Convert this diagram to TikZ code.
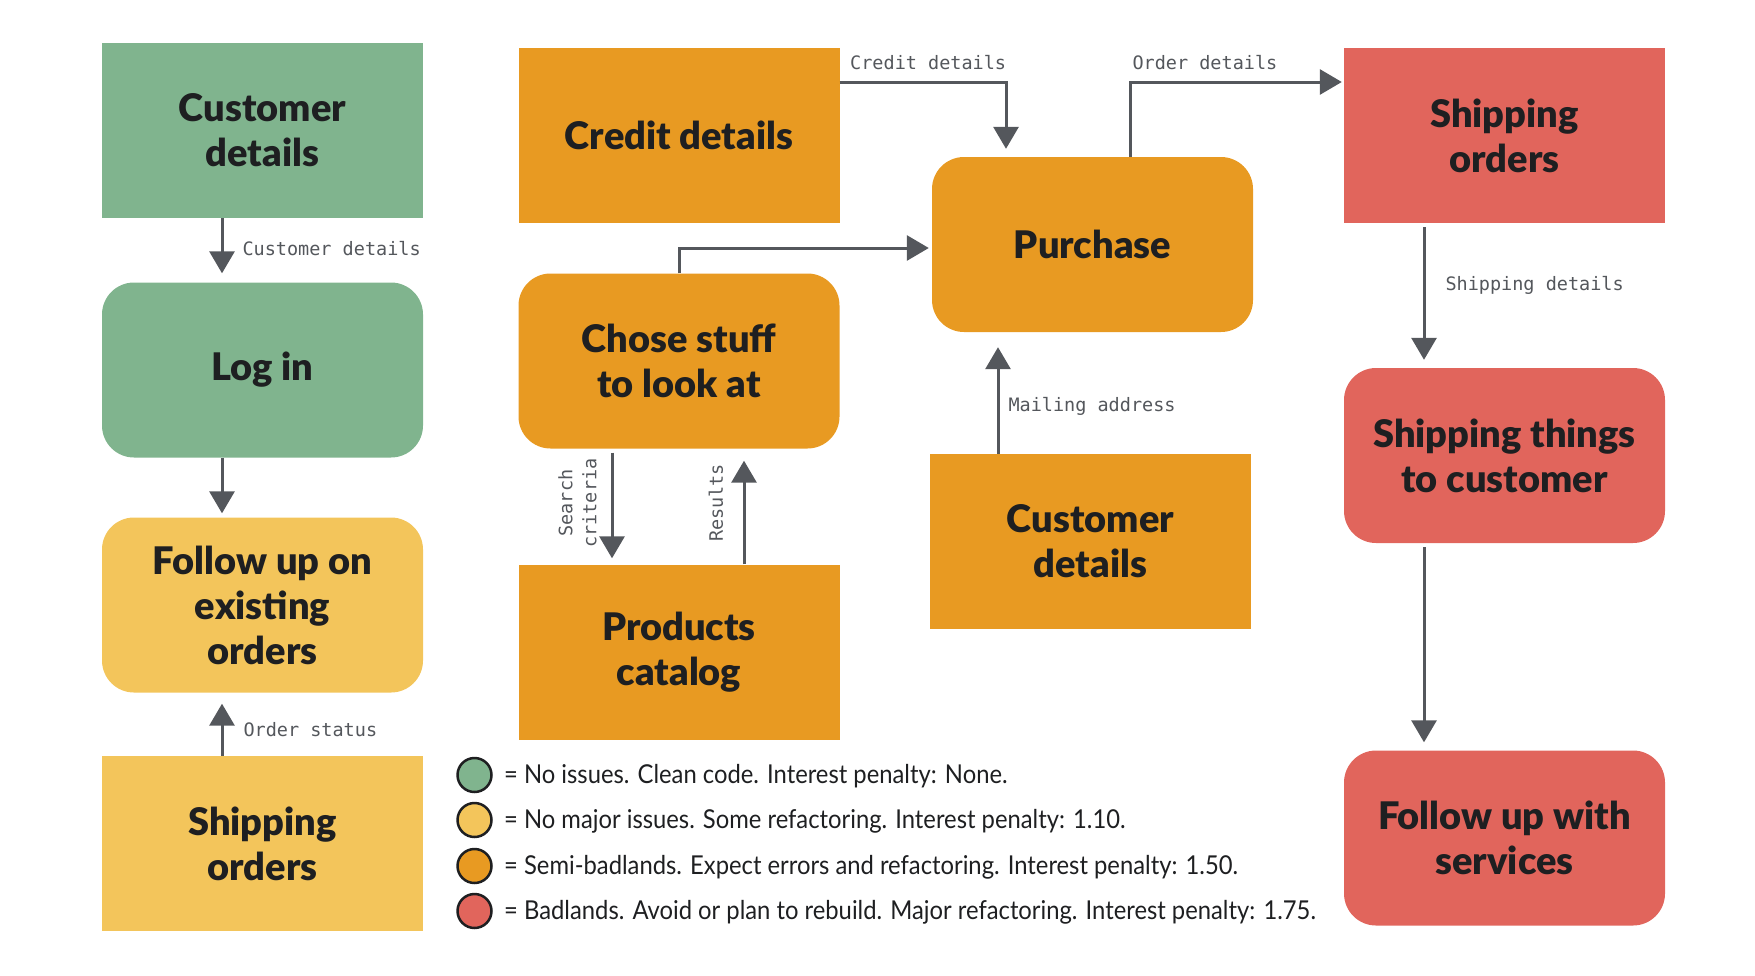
\documentclass[tikz,border=0pt]{standalone}
\usepackage{fontspec}
\setmainfont{Lato}[BoldFont={Lato Black}]
\setmonofont{DejaVu Sans Mono}
\newfontfamily\legendfont[FakeStretch=0.915]{Lato}
\usepackage{xcolor}
\usepackage{tikz}
\usetikzlibrary{arrows.meta}
\definecolor{stagegreen}{HTML}{80B48E}
\definecolor{stageyellow}{HTML}{F3C55B}
\definecolor{stageorange}{HTML}{E89A22}
\definecolor{stagered}{HTML}{E1655C}
\definecolor{flowgray}{HTML}{54575C}
\definecolor{boxink}{HTML}{1E1F21}

\begin{document}
\begin{tikzpicture}[x=1pt, y=-1pt,
    box/.style={minimum width=321pt, minimum height=175pt, inner sep=0pt,
      align=center, text=boxink, font=\fontsize{38}{45}\selectfont\bfseries},
    roundbox/.style={box, rounded corners=32pt},
    flow/.style={draw=flowgray, line width=3pt, -{Triangle[width=25pt,length=22pt]}},
    lbl/.style={font=\fontsize{18.5}{24}\selectfont\ttfamily, text=flowgray, inner sep=0pt},
    keydot/.style={circle, draw=boxink, line width=2.5pt, minimum size=34pt, inner sep=0pt},
    keytext/.style={font=\legendfont\fontsize{26}{30}\selectfont, text=boxink,
      anchor=west, inner sep=0pt}]
  \useasboundingbox (0,0) rectangle (1755,975);

  % left column
  \node[box, fill=stagegreen] (custg) at (262.5,130.5) {Customer\\details};
  \node[roundbox, fill=stagegreen] (login) at (262.5,370) {Log in};
  \node[roundbox, fill=stageyellow] (follow) at (262.5,605) {Follow up on\\existing\\orders};
  \node[box, fill=stageyellow] (shipy) at (262.5,843.5) {Shipping\\orders};

  % middle columns
  \node[box, fill=stageorange] (credit) at (679,135.5) {Credit details};
  \node[roundbox, fill=stageorange] (chose) at (679,361) {Chose stuff\\to look at};
  \node[box, fill=stageorange] (products) at (679,652) {Products\\catalog};
  \node[roundbox, fill=stageorange] (purchase) at (1092.5,244.5) {Purchase};
  \node[box, fill=stageorange] (custo) at (1090.5,541.5) {Customer\\details};

  % right column
  \node[box, fill=stagered] (shipr) at (1504.5,135.5) {Shipping\\orders};
  \node[roundbox, fill=stagered] (things) at (1504.5,455.5) {Shipping things\\to customer};
  \node[roundbox, fill=stagered] (services) at (1504.5,838) {Follow up with\\services};

  % flows
  \draw[flow, shorten >=9pt] ([xshift=-40.5pt]custg.south) -- ([xshift=-40.5pt]login.north)
    node[lbl, midway, anchor=west, xshift=19pt, yshift=2pt] {Customer details};
  \draw[flow, shorten >=4pt] ([xshift=-40.5pt]login.south) -- ([xshift=-40.5pt]follow.north);
  \draw[flow, shorten >=11pt] ([xshift=-40.5pt]shipy.north) -- ([xshift=-40.5pt]follow.south)
    node[lbl, midway, anchor=west, xshift=20pt, yshift=-5.5pt] {Order status};

  \draw[flow, shorten >=8pt] ([yshift=53.5pt]credit.east) -| ([xshift=-86.5pt]purchase.north)
    node[lbl, pos=0, anchor=south west, xshift=9pt, yshift=11pt] {Credit details};
  \draw[flow, shorten >=2pt] ([xshift=37.5pt]purchase.north) |- ([yshift=53.5pt]shipr.west)
    node[lbl, pos=0.5, anchor=south west, xshift=1pt, yshift=11pt] {Order details};
  \draw[flow, shorten >=3pt] (chose.north) |- ([yshift=-3.5pt]purchase.west);

  \draw[flow, shorten <=4pt, shorten >=6pt] ([xshift=-67pt]chose.south) -- ([xshift=-67pt]chose.south |- products.north)
    node[lbl, midway, align=center, xshift=-34.5pt, yshift=3.5pt, rotate=90] {Search\\criteria};
  \draw[flow, shorten >=12pt] ([xshift=65pt]products.north) -- ([xshift=65pt]products.north |- chose.south)
    node[lbl, midway, xshift=-28pt, yshift=3.5pt, rotate=90] {Results};
  \draw[flow, shorten >=15pt] ([xshift=-92.5pt]custo.north) -- ([xshift=-92.5pt]custo.north |- purchase.south)
    node[lbl, midway, anchor=west, xshift=9pt, yshift=-13.5pt] {Mailing address};

  \draw[flow, shorten <=4pt, shorten >=8pt] ([xshift=-80.5pt]shipr.south) -- ([xshift=-80.5pt]things.north)
    node[lbl, midway, anchor=west, xshift=20pt, yshift=10.5pt] {Shipping details};
  \draw[flow, shorten <=4pt, shorten >=8pt] ([xshift=-80.5pt]things.south) -- ([xshift=-80.5pt]services.north);

  % legend
  \node[keydot, fill=stagegreen] (dotgreen) at (474.5,775) {};
  \node[keytext] (keygreen) at (504,776) {= No issues. Clean code. Interest penalty: None.};
  \node[keydot, fill=stageyellow] (dotyellow) at (474.5,820) {};
  \node[keytext] (keyyellow) at (504,821) {= No major issues. Some refactoring. Interest penalty: 1.10.};
  \node[keydot, fill=stageorange] (dotorange) at (474.5,866) {};
  \node[keytext] (keyorange) at (504,867) {= Semi-badlands. Expect errors and refactoring. Interest penalty: 1.50.};
  \node[keydot, fill=stagered] (dotred) at (474.5,911) {};
  \node[keytext] (keyred) at (504,912) {= Badlands. Avoid or plan to rebuild. Major refactoring. Interest penalty: 1.75.};
\end{tikzpicture}
\end{document}
